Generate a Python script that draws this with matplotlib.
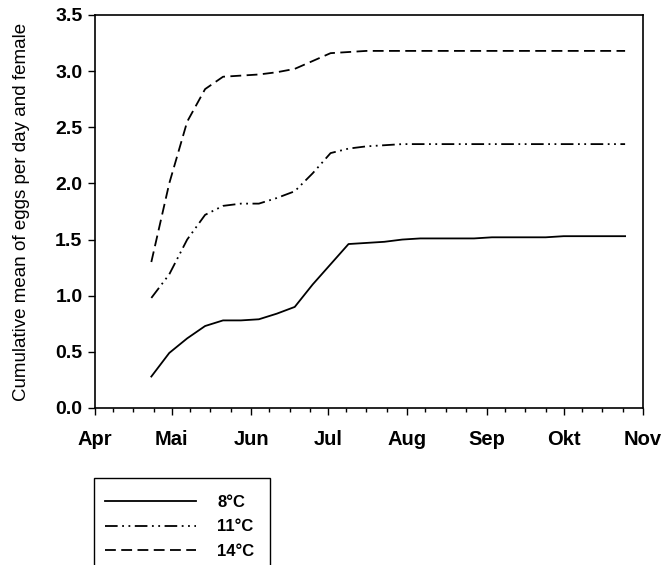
import datetime as dt
import matplotlib
matplotlib.use("Agg")
import matplotlib.pyplot as plt
import matplotlib.dates as mdates
from matplotlib.patches import Rectangle

plt.rcParams["font.family"] = ["Liberation Sans", "DejaVu Sans"]

# weekly sampling dates (day offsets from 1 April)
day_offsets = [22, 29, 36, 43, 50, 57, 64, 71, 78, 85, 92, 99, 106, 113,
               120, 127, 134, 141, 148, 155, 162, 169, 176, 183, 190, 197, 207]

# cumulative mean of eggs per day and female
eggs_8 = [0.28, 0.49, 0.62, 0.73, 0.78, 0.78, 0.79, 0.84, 0.90, 1.10, 1.28,
          1.46, 1.47, 1.48, 1.50, 1.51, 1.51, 1.51, 1.51, 1.52, 1.52, 1.52,
          1.52, 1.53, 1.53, 1.53, 1.53]
eggs_11 = [0.98, 1.19, 1.50, 1.72, 1.80, 1.82, 1.82, 1.87, 1.93, 2.09, 2.27,
           2.31, 2.33, 2.34, 2.35, 2.35, 2.35, 2.35, 2.35, 2.35, 2.35, 2.35,
           2.35, 2.35, 2.35, 2.35, 2.35]
eggs_14 = [1.30, 2.00, 2.55, 2.84, 2.95, 2.96, 2.97, 2.99, 3.02, 3.09, 3.16,
           3.17, 3.18, 3.18, 3.18, 3.18, 3.18, 3.18, 3.18, 3.18, 3.18, 3.18,
           3.18, 3.18, 3.18, 3.18, 3.18]

labels = ["8°C", "11°C", "14°C"]
month_names = ["Apr", "Mai", "Jun", "Jul", "Aug", "Sep", "Okt", "Nov"]

start = dt.datetime(2001, 4, 1)
dates = [start + dt.timedelta(days=d) for d in day_offsets]

fig = plt.figure(figsize=(6.61, 5.65), dpi=100)
ax = fig.add_axes([0.1437, 0.2779, 0.8291, 0.6956])

lw = 1.3
l1, = ax.plot(dates, eggs_8, color="black", lw=lw, linestyle="-")
l2, = ax.plot(dates, eggs_11, color="black", lw=lw,
              linestyle=(0, (7, 2.5, 1, 2.5, 1, 2.5)))
l3, = ax.plot(dates, eggs_14, color="black", lw=lw, linestyle=(0, (6, 3)))

ax.set_xlim(dt.datetime(2001, 4, 1), dt.datetime(2001, 11, 1))
ax.set_ylim(0, 3.5)

ax.xaxis.set_major_locator(mdates.MonthLocator())
ax.xaxis.set_minor_locator(mdates.DayLocator(bymonthday=[8, 16, 24]))
ax.set_xticklabels(month_names)
ax.set_yticks([0, 0.5, 1.0, 1.5, 2.0, 2.5, 3.0, 3.5])
ax.set_yticklabels(["0.0", "0.5", "1.0", "1.5", "2.0", "2.5", "3.0", "3.5"])

ax.tick_params(axis="x", which="major", direction="out", length=5, width=1,
               labelsize=14.5, pad=11)
ax.tick_params(axis="x", which="minor", direction="out", length=3, width=1)
ax.tick_params(axis="y", which="major", direction="out", length=5, width=1,
               labelsize=14, pad=4)
for t in ax.get_xticklabels() + ax.get_yticklabels():
    t.set_fontweight("bold")

for s in ax.spines.values():
    s.set_linewidth(1.2)

ax.set_ylabel("Cumulative mean of eggs per day and female", fontsize=13.5,
              labelpad=18)

# legend box, bottom edge runs off the figure like the original
fig.patches.append(Rectangle((94 / 661, 1 - 580 / 565), 176 / 661, 102 / 565,
                             transform=fig.transFigure, facecolor="white",
                             edgecolor="black", linewidth=1.0))
leg = fig.legend([l1, l2, l3], labels, loc="upper left",
                 bbox_to_anchor=(105 / 661, 1 - 495 / 565),
                 prop={"weight": "bold", "size": 12},
                 handlelength=5.45, labelspacing=0.56, handletextpad=1.3,
                 borderpad=0, borderaxespad=0, frameon=False)

fig.savefig("out.png", dpi=100)
